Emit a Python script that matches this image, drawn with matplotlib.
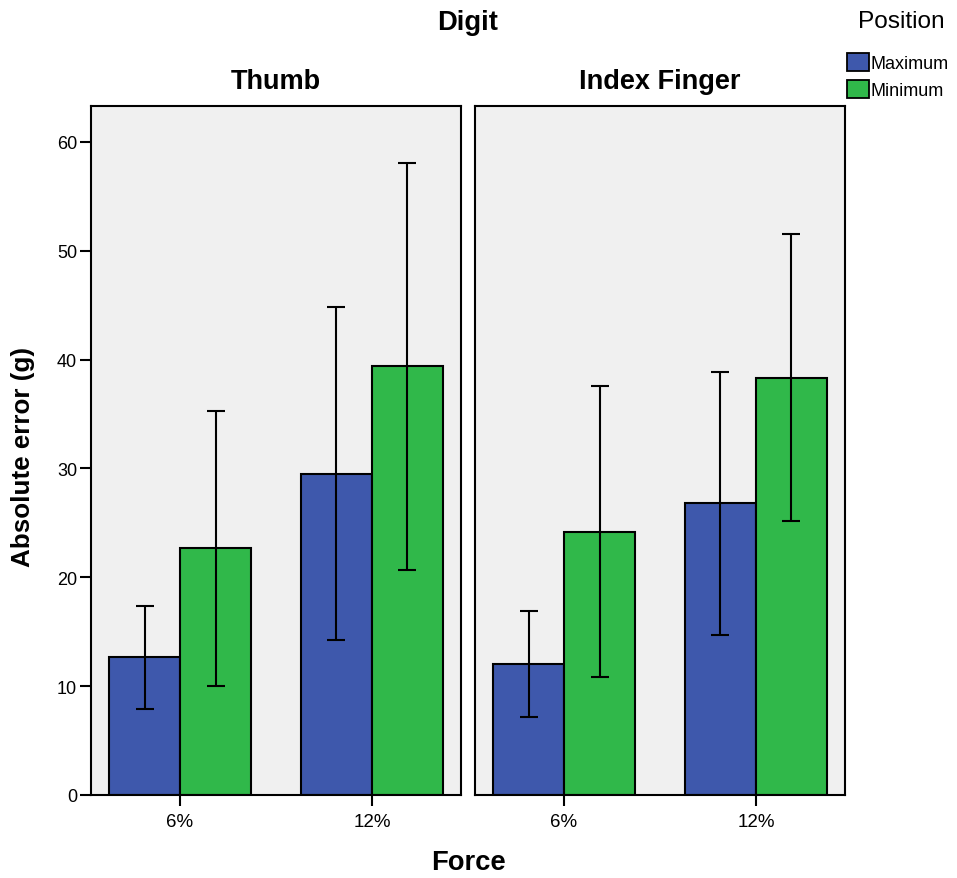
import numpy as np
import matplotlib.pyplot as plt
from matplotlib.patches import Patch

panels = ['Thumb', 'Index Finger']
forces = ['6%', '12%']
positions = ['Maximum', 'Minimum']
colors = ['#3e58ac', '#30b84a']

# mean absolute error per panel -> [force][position]
means = {
    'Thumb': [[12.7, 22.7], [29.5, 39.4]],
    'Index Finger': [[12.0, 24.2], [26.8, 38.3]],
}
err_low = {
    'Thumb': [[7.9, 10.0], [14.2, 20.7]],
    'Index Finger': [[7.2, 10.8], [14.7, 25.2]],
}
err_high = {
    'Thumb': [[17.4, 35.3], [44.8, 58.1]],
    'Index Finger': [[16.9, 37.6], [38.9, 51.5]],
}

plt.rcParams['font.family'] = ['Liberation Sans', 'DejaVu Sans']
fig = plt.figure(figsize=(9.57, 8.79), dpi=100)
W, H = 957, 879
bottom = (H - 796) / H
height = (796 - 107) / H
lefts = [91 / W, 475 / W]
width = 370 / W
bw = 0.37
x = np.arange(len(forces))

for k, p in enumerate(panels):
    ax = fig.add_axes([lefts[k], bottom, width, height])
    ax.set_facecolor('#f0f0f0')
    m = np.array(means[p])
    lo = np.array(err_low[p])
    hi = np.array(err_high[p])
    for j in range(len(positions)):
        xs = x + (j - 0.5) * bw
        ax.bar(xs, m[:, j], width=bw, color=colors[j], edgecolor='black',
               linewidth=1.5, zorder=2)
        ax.errorbar(xs, m[:, j], yerr=[m[:, j] - lo[:, j], hi[:, j] - m[:, j]],
                    fmt='none', ecolor='black', elinewidth=1.5, capsize=6.5,
                    capthick=1.5, zorder=3)
    ax.set_xlim(-0.464, 1.464)
    ax.set_ylim(0, 63.3)
    ax.set_xticks(x)
    ax.set_xticklabels(forces, fontsize=13.5)
    ax.tick_params(axis='x', length=8, width=1.5, pad=5)
    for s in ax.spines.values():
        s.set_linewidth(1.5)
    if k == 0:
        ax.set_yticks(np.arange(0, 61, 10))
        ax.tick_params(axis='y', length=8, width=1.5, labelsize=13, pad=2)
    else:
        ax.set_yticks([])
    # panel title, baseline just above the panel
    ax.text(0.5, (796 - 89) / 689, p, transform=ax.transAxes, ha='center',
            va='baseline', fontsize=19.5, fontweight='bold')

fig.text(23 / W, 1 - 457 / H, 'Absolute error (g)', rotation=90, ha='center',
         va='center', fontsize=18.7, fontweight='bold')
fig.text(468 / W, 1 - 23 / H, 'Digit', ha='center', va='center', fontsize=19.7, fontweight='bold')
fig.text(468 / W, 1 - 863 / H, 'Force', ha='center', va='center', fontsize=19.7, fontweight='bold')
fig.text(901 / W, 1 - 22 / H, 'Position', ha='center', va='center', fontsize=17.6)

handles = [Patch(facecolor=c, edgecolor='black', linewidth=1.3) for c in colors]
fig.legend(handles, positions, loc='upper left', bbox_to_anchor=(847 / W, 1 - 54 / H),
           frameon=False, fontsize=13, handlelength=1.2, handleheight=1.15,
           handletextpad=0.1, labelspacing=0.45, borderpad=0, borderaxespad=0)

fig.savefig('out.png', dpi=100)
